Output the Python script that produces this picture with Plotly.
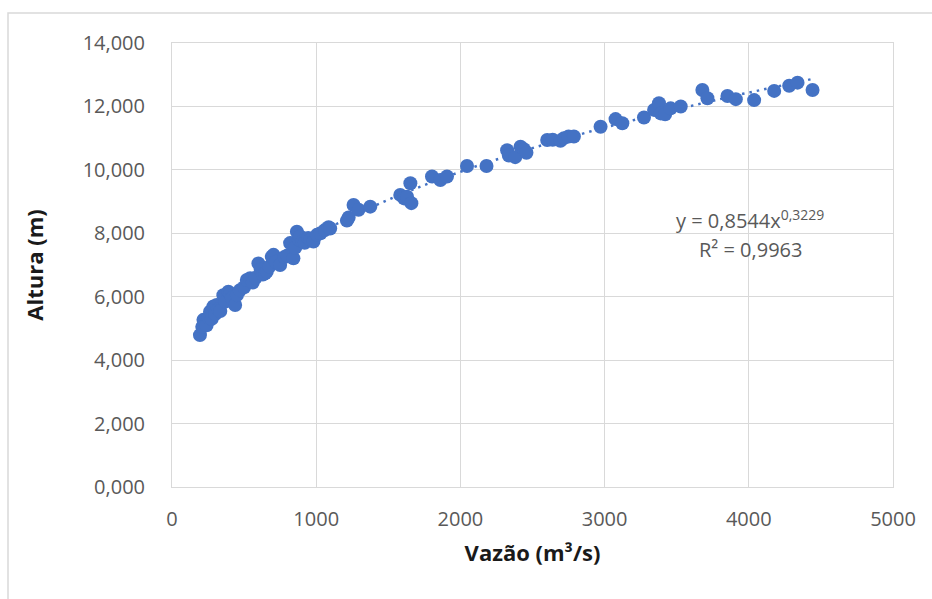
import numpy as np
import plotly.graph_objects as go

# Data
vazao = [194, 210, 218, 229, 240, 252, 264, 275, 287, 300, 310, 322, 335, 356, 370,
         391, 403, 415, 438, 450, 470, 500, 519, 542, 560, 580, 599, 615, 630, 646,
         657, 675, 692, 704, 720, 750, 780, 800, 819, 831, 842, 855, 866, 880, 889,
         905, 920, 945, 960, 981, 1005, 1030, 1060, 1086, 1097, 1213, 1225, 1259, 1294,
         1375, 1583, 1610, 1630, 1653, 1660, 1803, 1861, 1907, 2046, 2181, 2324, 2336,
         2380, 2417, 2440, 2458, 2602, 2640, 2694, 2718, 2750, 2787, 2972, 3076, 3123,
         3273, 3343, 3377, 3389, 3420, 3458, 3528, 3678, 3713, 3852, 3910, 4037, 4176,
         4280, 4338, 4442]
altura = [4.79, 5.05, 5.27, 5.21, 5.10, 5.35, 5.53, 5.30, 5.69, 5.45, 5.74, 5.60, 5.55,
          6.05, 5.85, 6.16, 6.10, 5.95, 5.74, 6.05, 6.20, 6.30, 6.53, 6.58, 6.45, 6.60,
          7.05, 6.85, 6.70, 6.74, 6.79, 6.95, 7.26, 7.32, 7.10, 7.00, 7.25, 7.30, 7.69,
          7.68, 7.21, 7.55, 8.05, 7.80, 7.90, 7.75, 7.70, 7.85, 7.80, 7.74, 7.95, 8.00,
          8.10, 8.19, 8.15, 8.40, 8.50, 8.89, 8.74, 8.84, 9.21, 9.10, 9.15, 9.58, 8.95,
          9.79, 9.68, 9.79, 10.12, 10.12, 10.62, 10.45, 10.40, 10.73, 10.65, 10.54, 10.94,
          10.95, 10.92, 11.00, 11.05, 11.05, 11.36, 11.60, 11.47, 11.65, 11.89, 12.10,
          11.78, 11.75, 11.94, 12.00, 12.52, 12.26, 12.33, 12.23, 12.20, 12.49, 12.65,
          12.75, 12.52]

# Power trendline shown on the chart: y = a * x^b
TREND_A = 0.8544
TREND_B = 0.3229
R2 = 0.9963

y_ticks = [0, 2, 4, 6, 8, 10, 12, 14]
y_tick_labels = ["0,000", "2,000", "4,000", "6,000", "8,000", "10,000", "12,000", "14,000"]
x_ticks = [0, 1000, 2000, 3000, 4000, 5000]
x_tick_labels = ["0", "1000", "2000", "3000", "4000", "5000"]

BLUE = "#4472C4"
GRID = "#d9d9d9"
TXT = "#595959"
FONT = "Open Sans"

xt = np.linspace(min(vazao), max(vazao), 300)
yt = TREND_A * xt ** TREND_B

fig = go.Figure()
fig.add_trace(go.Scatter(x=xt, y=yt, mode="lines",
                         line=dict(color=BLUE, width=2.5, dash="2.5px,5px"),
                         hoverinfo="skip", showlegend=False))
fig.add_trace(go.Scatter(x=vazao, y=altura, mode="markers",
                         marker=dict(color=BLUE, size=14, line=dict(width=0)),
                         showlegend=False))

fig.update_layout(
    width=932, height=599,
    margin=dict(l=172, r=39, t=43, b=112),
    paper_bgcolor="white", plot_bgcolor="white",
    font=dict(family=FONT, size=20, color=TXT),
    xaxis=dict(range=[0, 5000], tickvals=x_ticks, ticktext=x_tick_labels,
               showgrid=True, gridcolor=GRID, gridwidth=1,
               showline=True, linecolor=GRID, linewidth=1, mirror=True,
               zeroline=False, ticks="", ticklabelstandoff=14,
               tickfont=dict(family=FONT, size=20, color=TXT),
               title=dict(text="<b>Vazão (m³/s)</b>", standoff=14,
                          font=dict(family=FONT, size=22, color="#1a1a1a"))),
    yaxis=dict(range=[0, 14], tickvals=y_ticks, ticktext=y_tick_labels,
               showgrid=True, gridcolor=GRID, gridwidth=1,
               showline=True, linecolor=GRID, linewidth=1, mirror=True,
               zeroline=False, ticks="", ticklabelstandoff=22,
               tickfont=dict(family=FONT, size=20, color=TXT),
               title=dict(text="<b>Altura (m)</b>", standoff=32,
                          font=dict(family=FONT, size=22, color="#1a1a1a"))),
    annotations=[
        dict(x=4010, y=8.42, xref="x", yref="y", showarrow=False,
             text="y = " + f"{TREND_A:.4f}".replace(".", ",") + "x<sup>" +
                  f"{TREND_B:.4f}".replace(".", ",") + "</sup>",
             font=dict(family=FONT, size=20, color=TXT), xanchor="center"),
        dict(x=4010, y=7.5, xref="x", yref="y", showarrow=False,
             text="R² = " + f"{R2:.4f}".replace(".", ","),
             font=dict(family=FONT, size=20, color=TXT), xanchor="center"),
    ],
    shapes=[
        dict(type="rect", xref="paper", yref="paper",
             x0=(8 - 172) / 721, x1=(945 - 172) / 721,
             y0=(487 - 615) / 444, y1=(487 - 13) / 444,
             line=dict(color=GRID, width=1.5), fillcolor="rgba(0,0,0,0)", layer="below"),
    ],
)

fig.write_html("out.html")
